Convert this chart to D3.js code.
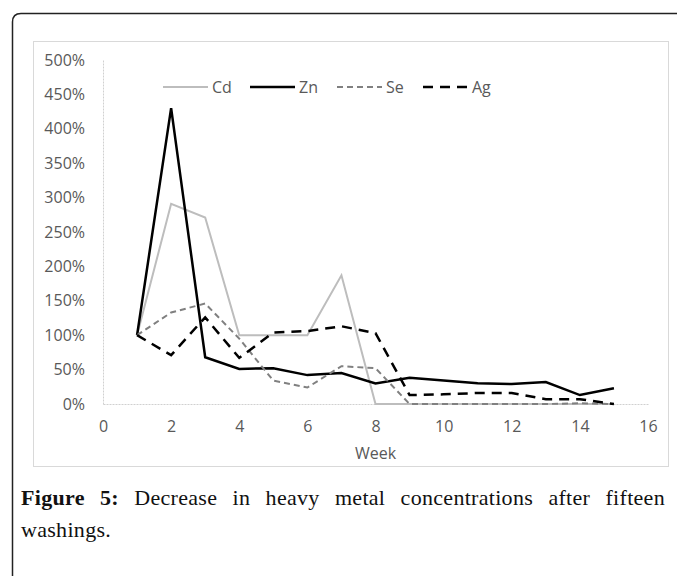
<!DOCTYPE html>
<html>
<head>
<meta charset="utf-8">
<script src="https://cdn.jsdelivr.net/npm/d3@7"></script>
<style>
  body { margin: 0; background: #fff; }
  #wrap { position: relative; width: 677px; height: 576px; overflow: hidden; }
  svg { position: absolute; left: 0; top: 0; }
  .tick text { font-family: 'Open Sans', sans-serif; font-size: 16px; fill: #595959; }
  .cap {
    position: absolute; left: 21px; width: 644px;
    font-family: 'Liberation Serif', serif; font-size: 22px; line-height: 32px;
    letter-spacing: 0.3px; color: #111; white-space: nowrap;
  }
  #cap1 { top: 482px; text-align: justify; text-align-last: justify; }
  #cap2 { top: 514px; text-align: left; }
</style>
</head>
<body>
<div id="wrap">
  <svg id="chart" width="677" height="576"></svg>
  <div class="cap" id="cap1"><b>Figure 5:</b> Decrease in heavy metal concentrations after fifteen</div>
  <div class="cap" id="cap2">washings.</div>
</div>
<script>
// data (percent of week 1)
var weeks = [1, 2, 3, 4, 5, 6, 7, 8, 9, 10, 11, 12, 13, 14, 15];
var cd = [100, 291, 271, 100, 100, 100, 187, 0, 0, 0, 0, 0, 0, 0, 0];
var zn = [100, 430, 68, 51, 52, 42, 45, 30, 38, 34, 30, 29, 32, 13, 23];
var se = [100, 133, 146, 95, 34, 24, 55, 52, 0, 0, 0, 0, 0, 1, 0];
var ag = [100, 71, 126, 67, 104, 106, 113, 103, 13, 14, 16, 16, 7, 7, 0];
var xTicks = [0, 2, 4, 6, 8, 10, 12, 14, 16];
var yTicks = [0, 50, 100, 150, 200, 250, 300, 350, 400, 450, 500];

var series = [
    { name: 'Cd', values: cd, color: '#bdbdbd', width: 2, dash: null },
    { name: 'Zn', values: zn, color: '#000', width: 2.5, dash: null },
    { name: 'Se', values: se, color: '#808080', width: 2, dash: '6,4' },
    { name: 'Ag', values: ag, color: '#000', width: 2.5, dash: '10,7' }
];

var svg = d3.select('#chart');

// outer figure border (rounded top-left, runs off page)
svg.append('path')
    .attr('d', 'M12.5,576 V22 Q12.5,13.5 21,13.5 H677')
    .attr('fill', 'none')
    .attr('stroke', '#222')
    .attr('stroke-width', 1.5);

// chart frame
svg.append('rect')
    .attr('x', 33.5).attr('y', 41.5)
    .attr('width', 635).attr('height', 425)
    .attr('fill', 'none')
    .attr('stroke', '#d9d9d9');

var plot = { left: 103, right: 648, top: 60, bottom: 404 };

var x = d3.scaleLinear().domain([0, 16]).range([plot.left, plot.right]);
var y = d3.scaleLinear().domain([0, 500]).range([plot.bottom, plot.top]);

// axes
var xAxis = d3.axisBottom(x).tickValues(xTicks).tickSize(0).tickPadding(17);
var yAxis = d3.axisLeft(y).tickValues(yTicks).tickSize(0).tickPadding(18)
    .tickFormat(d => d + '%');

var gx = svg.append('g')
    .attr('transform', 'translate(0,' + plot.bottom + ')')
    .call(xAxis);
gx.select('.domain').attr('stroke', '#d0d0d0').attr('stroke-dasharray', '2,1');

var gy = svg.append('g')
    .attr('transform', 'translate(' + plot.left + ',0)')
    .call(yAxis);
gy.select('.domain').attr('stroke', '#d0d0d0').attr('stroke-dasharray', '2,1');

svg.append('text')
    .attr('x', (plot.left + plot.right) / 2)
    .attr('y', 459)
    .attr('text-anchor', 'middle')
    .style('font-family', "'Open Sans', sans-serif")
    .style('font-size', '16px')
    .style('fill', '#595959')
    .text('Week');

// lines
var line = d3.line()
    .x((d, i) => x(weeks[i]))
    .y(d => y(d));

svg.selectAll('.series')
    .data(series)
    .enter()
    .append('path')
    .attr('class', 'series')
    .attr('d', d => line(d.values))
    .attr('fill', 'none')
    .attr('stroke', d => d.color)
    .attr('stroke-width', d => d.width)
    .attr('stroke-dasharray', d => d.dash)
    .attr('stroke-linejoin', 'miter');

// legend
var legX = [163, 250, 337, 423];
var leg = svg.selectAll('.leg')
    .data(series)
    .enter()
    .append('g')
    .attr('class', 'leg')
    .attr('transform', (d, i) => 'translate(' + legX[i] + ',87)');

leg.append('line')
    .attr('x1', 0).attr('x2', 45)
    .attr('stroke', d => d.color)
    .attr('stroke-width', d => d.width)
    .attr('stroke-dasharray', d => d.dash);

leg.append('text')
    .attr('x', 49)
    .attr('y', 5.5)
    .style('font-family', "'Open Sans', sans-serif")
    .style('font-size', '16px')
    .style('fill', '#595959')
    .text(d => d.name);
</script>
</body>
</html>
